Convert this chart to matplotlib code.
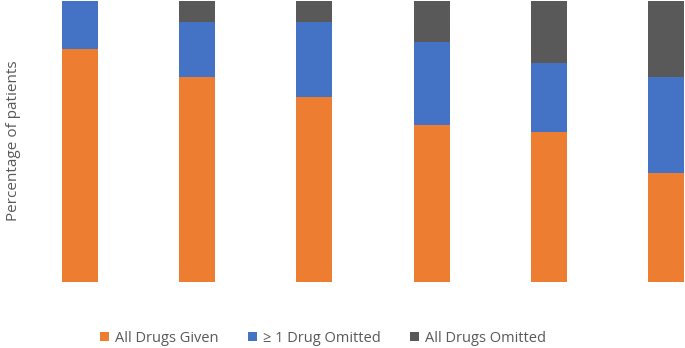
import matplotlib.pyplot as plt
import numpy as np

plt.rcParams['font.family'] = ['Open Sans', 'DejaVu Sans']

# values (percent of patients)
groups = ['1', '2', '3', '4', '5', '6']
all_given = [82.9, 73.0, 66.0, 55.9, 53.4, 38.9]
one_omitted = [17.1, 19.4, 26.4, 29.6, 24.6, 34.0]
all_omitted = [0.0, 7.6, 7.6, 14.5, 22.0, 27.1]

c_orange = '#ED7D31'
c_blue = '#4472C4'
c_grey = '#595959'
txt = '#595959'

fig = plt.figure(figsize=(6.85, 3.48), dpi=100)
ax = fig.add_axes([0, 66 / 348, 1, 281 / 348])

x = np.arange(len(groups))
w = 0.307
b1 = np.array(all_given)
b2 = b1 + np.array(one_omitted)
ax.bar(x, all_given, w, color=c_orange, label='All Drugs Given')
ax.bar(x, one_omitted, w, bottom=b1, color=c_blue, label='\u2265 1 Drug Omitted')
ax.bar(x, all_omitted, w, bottom=b2, color=c_grey, label='All Drugs Omitted')

ax.set_xlim(-80 / 117.2, (685 - 80) / 117.2)
ax.set_ylim(0, 100)
ax.axis('off')

fig.text(14 / 685, 1 - 141 / 348, 'Percentage of patients', rotation=90,
         ha='center', va='center', fontsize=11, color=txt)

leg = fig.legend(loc='center', bbox_to_anchor=(323 / 685, 1 - 338 / 348), ncol=3,
                 frameon=False, fontsize=10.5, handlelength=0.65, handleheight=0.65,
                 handletextpad=0.4, columnspacing=2.0)
for t in leg.get_texts():
    t.set_color(txt)

fig.savefig('out.png', dpi=100)
